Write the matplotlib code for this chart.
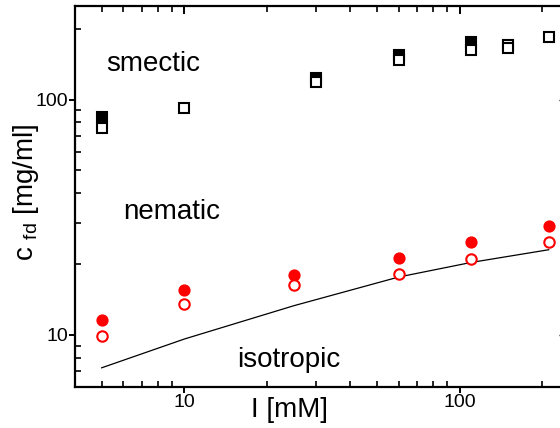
import matplotlib
matplotlib.use("Agg")
import matplotlib.pyplot as plt

plt.rcParams["font.family"] = ["Liberation Sans", "DejaVu Sans"]
plt.rcParams["mathtext.fontset"] = "custom"
plt.rcParams["mathtext.rm"] = "Liberation Sans"
plt.rcParams["mathtext.default"] = "regular"

# smectic boundary (black squares)
sq_filled_I = [5, 30, 60, 110]
sq_filled_c = [84.5, 123, 155, 176]
sq_open_I = [5, 10, 30, 60, 110, 150, 150, 211]
sq_open_c = [75.4, 92.2, 119, 148, 163, 171, 165, 184.5]

# nematic boundary (red circles)
ci_I = [5, 10, 25, 60, 110, 211]
ci_filled_c = [11.6, 15.5, 17.9, 21.3, 24.7, 29.0]
ci_open_c = [9.84, 13.5, 16.3, 18.1, 21.1, 24.8]

# theory line
line_I = [5, 10, 25, 60, 110, 211]
line_c = [7.24, 9.6, 13.3, 17.6, 20.3, 23.0]

fig = plt.figure(figsize=(5.6, 4.28), dpi=100)
ax = fig.add_axes([75 / 560, 1 - 387 / 428, (569 - 75) / 560, (387 - 6) / 428])
ax.set_xscale("log")
ax.set_yscale("log")
ax.set_xlim(4, 250)
ax.set_ylim(6, 250)

ax.plot(line_I, line_c, color="black", lw=0.9, zorder=2)
ax.plot(sq_filled_I, sq_filled_c, "s", ms=7.5, mfc="black", mec="black", mew=1.5, zorder=3)
ax.plot(sq_open_I, sq_open_c, "s", ms=7.5, mfc="white", mec="black", mew=1.5, zorder=4)
ax.plot(ci_I, ci_filled_c, "o", ms=7.5, mfc="red", mec="red", mew=1.3, zorder=3)
ax.plot(ci_I, ci_open_c, "o", ms=7.5, mfc="white", mec="red", mew=1.5, zorder=4)

for s in ax.spines.values():
    s.set_linewidth(1.6)
ax.spines["right"].set_visible(False)
ax.spines["top"].set_visible(False)

ax.tick_params(which="major", direction="out", length=4, width=1.4, labelsize=14, pad=1)
ax.tick_params(which="minor", direction="in", length=4, width=1.2)
ax.xaxis.set_minor_formatter(plt.NullFormatter())
ax.yaxis.set_minor_formatter(plt.NullFormatter())
ax.xaxis.set_major_formatter(plt.FuncFormatter(lambda v, p: f"{v:g}"))
ax.yaxis.set_major_formatter(plt.FuncFormatter(lambda v, p: f"{v:g}"))

top = ax.secondary_xaxis("top")
top.spines["top"].set_linewidth(1.6)
top.tick_params(which="major", direction="in", length=6, width=1.4, labeltop=False)
top.tick_params(which="minor", direction="in", length=4, width=1.2)
top.xaxis.set_minor_formatter(plt.NullFormatter())

right = ax.secondary_yaxis("right")
right.spines["right"].set_linewidth(1.6)
right.tick_params(which="major", direction="in", length=7, width=1.0, labelright=False)
right.tick_params(which="minor", direction="in", length=4, width=1.0)
right.yaxis.set_minor_formatter(plt.NullFormatter())

ax.set_xlabel("I [mM]", fontsize=20, labelpad=0)
ax.xaxis.set_label_coords(0.435, -0.025)
ax.xaxis.label.set_va("top")
ax.set_ylabel(r"c $_{fd}$ [mg/ml]", fontsize=20)
ax.yaxis.set_label_coords(-0.068, 0.51)

ax.text(5.2, 132, "smectic", fontsize=20)
ax.text(6.0, 31, "nematic", fontsize=20)
ax.text(15.6, 7.3, "isotropic", fontsize=20)

fig.savefig("out.png", dpi=100)
